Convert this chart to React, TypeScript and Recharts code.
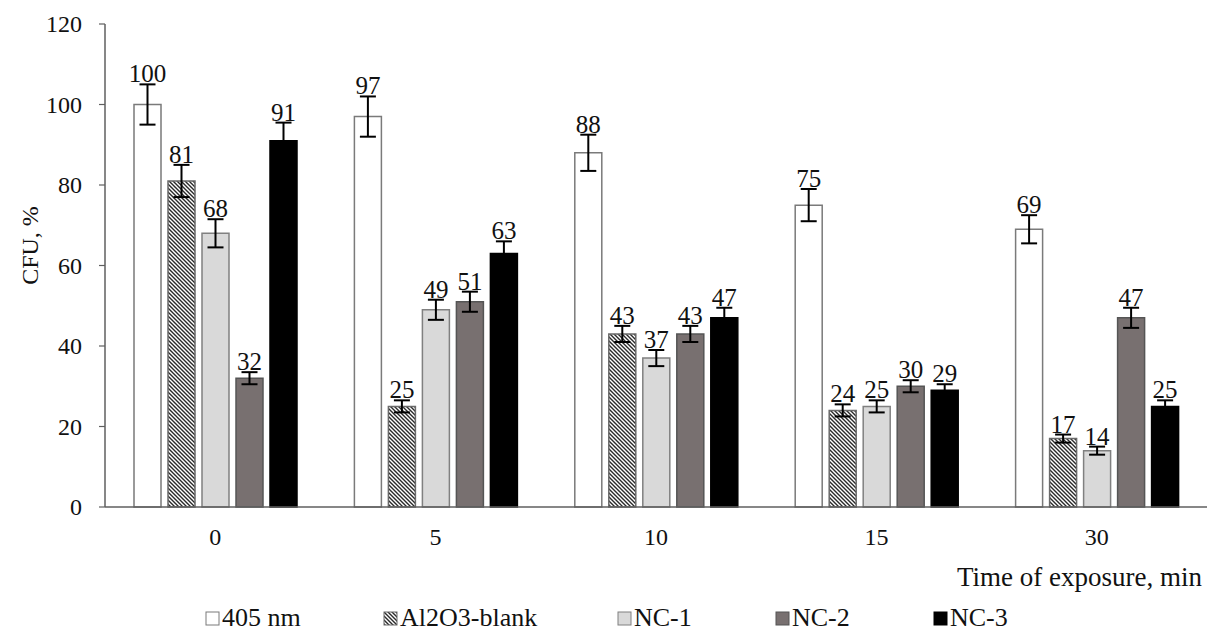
import React from "react";
import { Bar, BarChart, ErrorBar, LabelList, Legend, XAxis, YAxis } from "recharts";

const categories = ["0", "5", "10", "15", "30"];

const nm405 = [100, 97, 88, 75, 69];
const al2o3Blank = [81, 25, 43, 24, 17];
const nc1 = [68, 49, 37, 25, 14];
const nc2 = [32, 51, 43, 30, 47];
const nc3 = [91, 63, 47, 29, 25];

// error bar half-lengths
const err405 = [5, 5, 4.5, 4, 3.5];
const errAl2o3 = [4, 1.5, 2, 1.5, 1];
const errNc1 = [3.5, 2.5, 2, 1.5, 1];
const errNc2 = [1.5, 2.5, 2, 1.5, 2.5];
const errNc3 = [4.5, 3, 2.5, 1.5, 1.5];

const yTicks = [0, 20, 40, 60, 80, 100, 120];

const FONT = "Liberation Serif";

const series = [
  { key: "nm405", err: "err405", name: "405 nm", fill: "#ffffff", stroke: "#7a7a7a", errs: err405 },
  { key: "al2o3", err: "errAl2o3", name: "Al2O3-blank", fill: "url(#hatch)", stroke: "#6a6a6a", errs: errAl2o3 },
  { key: "nc1", err: "errNc1", name: "NC-1", fill: "#d9d9d9", stroke: "#808080", errs: errNc1 },
  { key: "nc2", err: "errNc2", name: "NC-2", fill: "#787070", stroke: "#555555", errs: errNc2 },
  { key: "nc3", err: "errNc3", name: "NC-3", fill: "#000000", stroke: "#000000", errs: errNc3 },
];

const data = categories.map((time, i) => ({
  time,
  nm405: nm405[i],
  al2o3: al2o3Blank[i],
  nc1: nc1[i],
  nc2: nc2[i],
  nc3: nc3[i],
  err405: err405[i],
  errAl2o3: errAl2o3[i],
  errNc1: errNc1[i],
  errNc2: errNc2[i],
  errNc3: errNc3[i],
}));

const legendLefts = [205, 383, 617, 775, 933];

function HatchPattern({ id }: { id: string }) {
  return (
    <pattern id={id} width={4} height={4} patternUnits="userSpaceOnUse">
      <rect width={4} height={4} fill="#ffffff" />
      <path d="M-1,-1 L5,5 M3,-1 L5,1 M-1,3 L1,5" stroke="#2a2a2a" strokeWidth={1.4} />
    </pattern>
  );
}

function LegendContent() {
  return (
    <div style={{ position: "relative", height: 24, width: 1207, fontFamily: FONT, fontSize: 26, color: "#111" }}>
      {series.map((s, i) => (
        <div
          key={s.key}
          style={{ position: "absolute", left: legendLefts[i], top: 0, height: 24, display: "flex", alignItems: "center" }}
        >
          <svg width={15} height={15} style={{ marginRight: 2 }}>
            <defs>
              <HatchPattern id={"hatchLegend"} />
            </defs>
            <rect
              x={1}
              y={1}
              width={13}
              height={13}
              fill={s.fill === "url(#hatch)" ? "url(#hatchLegend)" : s.fill}
              stroke={s.stroke}
              strokeWidth={1}
            />
          </svg>
          <span style={{ lineHeight: "24px", whiteSpace: "nowrap", fontFamily: FONT }}>{s.name}</span>
        </div>
      ))}
    </div>
  );
}

function makeValueLabel(errs: number[]) {
  return (props: any) => {
    const { x, y, width, height, value, index } = props;
    const errPx = value ? (errs[index] * height) / value : 0;
    return (
      <text
        x={x + width / 2}
        y={y - errPx - 2}
        textAnchor="middle"
        style={{ fontFamily: FONT, fontSize: 25 }}
        fill="#111"
      >
        {value}
      </text>
    );
  };
}

function XTick(props: any) {
  const { x, y, payload } = props;
  return (
    <text x={x} y={y + 38} textAnchor="middle" style={{ fontFamily: FONT, fontSize: 24 }} fill="#111">
      {payload.value}
    </text>
  );
}

function YTick(props: any) {
  const { x, y, payload } = props;
  return (
    <text x={x} y={y} dy={8} textAnchor="end" style={{ fontFamily: FONT, fontSize: 24 }} fill="#111">
      {payload.value}
    </text>
  );
}

export default function App() {
  return (
    <div style={{ position: "absolute", left: 0, top: 0, background: "#fff", fontFamily: FONT }}>
      <BarChart
        width={1207}
        height={630}
        data={data}
        margin={{ top: 24, right: 0, left: 0, bottom: 0 }}
        barGap={7}
        barSize={27}
        style={{ fontFamily: FONT }}
      >
        <defs>
          <HatchPattern id="hatch" />
        </defs>
        <XAxis
          dataKey="time"
          height={99}
          tickLine={false}
          tickSize={0}
          tickMargin={0}
          tick={<XTick />}
          axisLine={{ stroke: "#5f5f5f", strokeWidth: 1.5 }}
          label={{
            content: () => (
              <text x={1202} y={586} textAnchor="end" style={{ fontFamily: FONT, fontSize: 27 }} fill="#111">
                Time of exposure, min
              </text>
            ),
          }}
        />
        <YAxis
          width={105}
          domain={[0, 120]}
          ticks={yTicks}
          interval={0}
          tickSize={6}
          tickMargin={17}
          tick={<YTick />}
          tickLine={{ stroke: "#5f5f5f", strokeWidth: 1.2 }}
          axisLine={{ stroke: "#5f5f5f", strokeWidth: 1.5 }}
          label={{
            content: (p: any) => {
              const vb = p.viewBox || { y: 24, height: 483 };
              const cy = vb.y + vb.height / 2 - 20;
              return (
                <text
                  x={38}
                  y={cy}
                  textAnchor="middle"
                  transform={`rotate(-90, 38, ${cy})`}
                  style={{ fontFamily: FONT, fontSize: 24 }}
                  fill="#111"
                >
                  CFU, %
                </text>
              );
            },
          }}
        />
        <Legend verticalAlign="bottom" content={<LegendContent />} wrapperStyle={{ left: 0, width: 1207 }} />
        {series.map((s) => (
          <Bar
            key={s.key}
            dataKey={s.key}
            name={s.name}
            fill={s.fill}
            stroke={s.stroke}
            strokeWidth={1.5}
            isAnimationActive={false}
          >
            <ErrorBar dataKey={s.err} width={8} strokeWidth={2} stroke="#000" direction="y" isAnimationActive={false} />
            <LabelList dataKey={s.key} content={makeValueLabel(s.errs)} />
          </Bar>
        ))}
      </BarChart>
    </div>
  );
}
